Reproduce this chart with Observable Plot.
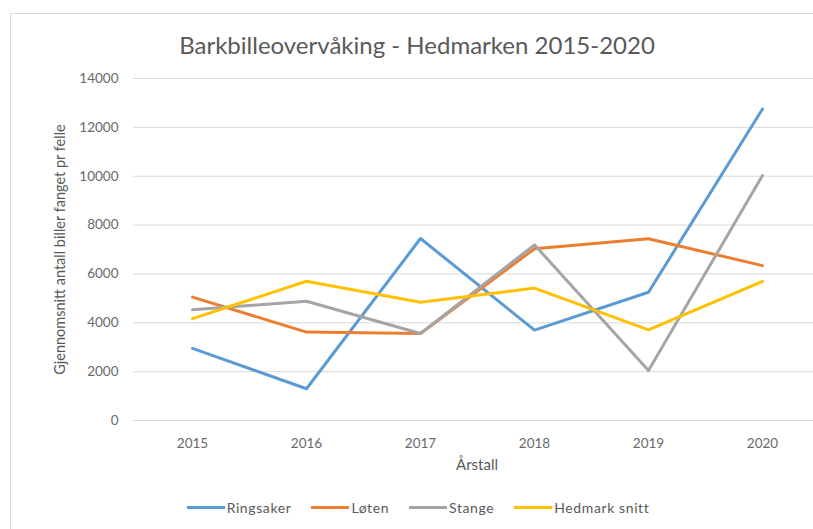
<!DOCTYPE html>
<html>
<head>
<meta charset="utf-8">
<script src="https://cdn.jsdelivr.net/npm/d3@7"></script>
<script src="https://cdn.jsdelivr.net/npm/@observablehq/plot@0.6"></script>
<style>
  html, body { margin: 0; padding: 0; background: #fff; }
  #chart { position: relative; width: 813px; height: 529px; overflow: hidden; font-family: Lato, "Open Sans", sans-serif; color: #595959; }
  #frame { position: absolute; left: 10px; top: 13px; width: 900px; height: 600px; border: 1px solid #d9d9d9; box-sizing: border-box; }
  #title { position: absolute; top: 30px; left: 0; width: 834px; text-align: center; font-size: 24px; color: #595959; }
  #plot { position: absolute; left: 0; top: 0; width: 830px; }
  #plot svg { max-width: none !important; }
  #legend { position: absolute; top: 499px; left: 0; width: 836px; display: flex; justify-content: center; gap: 20px; font-size: 14px; letter-spacing: 0.6px; color: #595959; }
  #legend .item { display: flex; align-items: center; gap: 2px; }
  #legend .sw { width: 38px; height: 3px; display: inline-block; }
</style>
</head>
<body>
<div id="chart">
  <div id="frame"></div>
  <div id="title">Barkbilleovervåking - Hedmarken 2015-2020</div>
  <div id="plot"></div>
  <div id="legend"></div>
</div>
<script>
const years = ["2015", "2016", "2017", "2018", "2019", "2020"];
const seriesNames = ["Ringsaker", "Løten", "Stange", "Hedmark snitt"];
const ringsaker = [2950, 1300, 7450, 3700, 5250, 12750];
const loten = [5050, 3620, 3560, 7030, 7440, 6340];
const stange = [4530, 4880, 3560, 7190, 2050, 10030];
const hedmark = [4170, 5700, 4840, 5420, 3710, 5700];
const colors = ["#5B9BD5", "#ED7D31", "#A5A5A5", "#FFC000"];
const yTicks = [0, 2000, 4000, 6000, 8000, 10000, 12000, 14000];

const seriesValues = [ringsaker, loten, stange, hedmark];
const data = [];
seriesNames.forEach((name, i) => {
  years.forEach((yr, j) => data.push({ series: name, year: yr, value: seriesValues[i][j] }));
});

const chart = Plot.plot({
  width: 830,
  height: 529,
  marginLeft: 133,
  marginRight: 10,
  marginTop: 78,
  marginBottom: 109,
  style: { fontFamily: "Lato, 'Open Sans', sans-serif", fontSize: "13.5px", color: "#595959", background: "transparent", overflow: "visible", maxWidth: "none" },
  x: { type: "point", domain: years, padding: 0.5, label: null },
  y: { domain: [0, 14000], label: null },
  color: { domain: seriesNames, range: colors },
  marks: [
    Plot.gridY(yTicks, { stroke: "#d9d9d9", strokeOpacity: 1, strokeWidth: 1 }),
    Plot.axisY(yTicks, { tickSize: 0, tickPadding: 15, tickFormat: d => String(d), fill: "#6a6a6a", fontSize: 13.5, letterSpacing: 0.6, label: null }),
    Plot.axisX({ tickSize: 0, tickPadding: 18, fill: "#6a6a6a", fontSize: 13.5, letterSpacing: 0.6, label: null }),
    Plot.line(data, { x: "year", y: "value", z: "series", stroke: "series", strokeWidth: 3, strokeLinejoin: "round", strokeLinecap: "round" }),
    Plot.text(["Årstall"], { frameAnchor: "bottom", dy: 49, fontSize: 15, fill: "#595959", letterSpacing: 1.4 }),
    Plot.text(["Gjennomsnitt antall biller fanget pr felle"], { frameAnchor: "left", textAnchor: "middle", dx: -73, rotate: -90, fontSize: 14.5, fill: "#595959", letterSpacing: 1.6 })
  ]
});
document.getElementById("plot").appendChild(chart);

const legend = document.getElementById("legend");
seriesNames.forEach((name, i) => {
  const item = document.createElement("span");
  item.className = "item";
  const sw = document.createElement("span");
  sw.className = "sw";
  sw.style.background = colors[i];
  item.appendChild(sw);
  item.appendChild(document.createTextNode(name));
  legend.appendChild(item);
});
</script>
</body>
</html>
